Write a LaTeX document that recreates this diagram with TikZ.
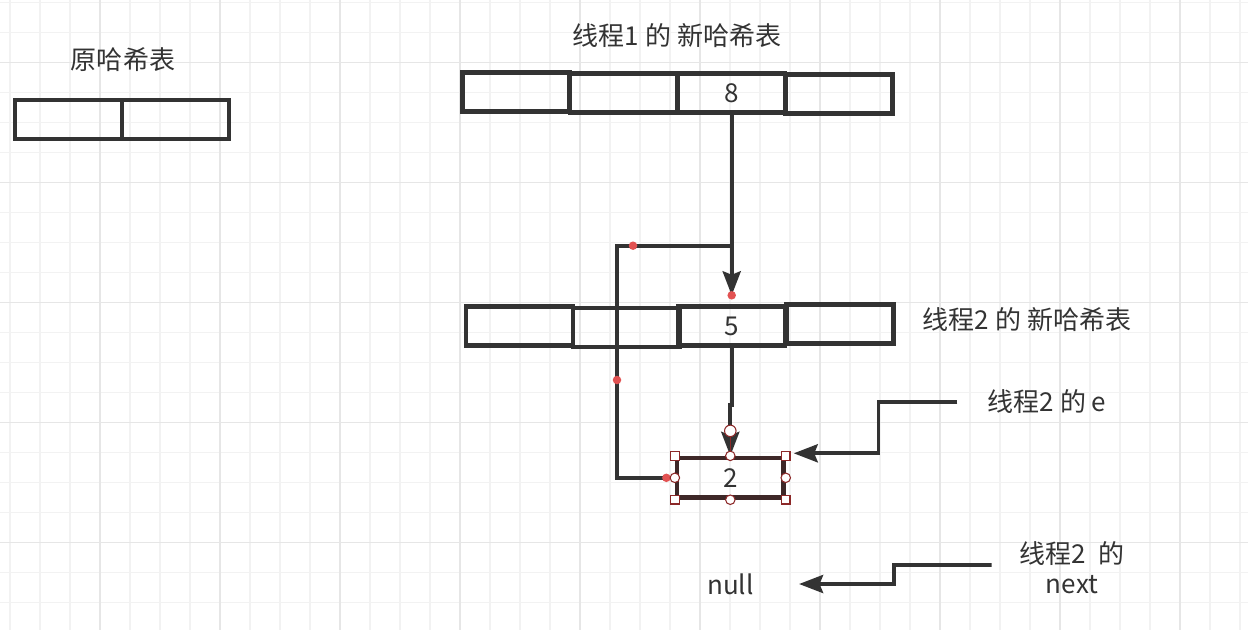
\documentclass[tikz,border=0pt]{standalone}
\usepackage{fontspec}
\setmainfont{Noto Sans CJK SC}
\usetikzlibrary{
  arrows.meta,
  positioning
}
\definecolor{ink}{RGB}{51,51,51}
\definecolor{gridminor}{RGB}{242,242,242}
\definecolor{gridmajor}{RGB}{230,230,230}
\definecolor{handlered}{RGB}{140,40,40}
\definecolor{dotred}{RGB}{226,82,82}
\definecolor{selbrown}{RGB}{62,40,40}

\begin{document}
\begin{tikzpicture}[x=0.02cm, y=-0.02cm,
  cell/.style={draw=ink, line width=2.5pt, minimum width=2.14cm, minimum height=0.78cm,
    inner sep=0pt, text=ink, font=\fontsize{14.8pt}{17pt}\selectfont},
  lbl/.style={inner sep=0pt, text=ink, font=\fontsize{14.8pt}{17pt}\selectfont},
  conn/.style={draw=ink, line width=2.2pt},
  arrowed/.style={-{Stealth[length=0.48cm, width=0.36cm, inset=0.07cm]}},
  handlesq/.style={draw=handlered, fill=white, line width=0.6pt, minimum size=0.17cm, inner sep=0pt},
  handlecirc/.style={circle, draw=handlered, fill=white, line width=0.6pt, minimum size=0.19cm, inner sep=0pt},
  reddot/.style={circle, fill=dotred, minimum size=0.17cm, inner sep=0pt}
]
  \useasboundingbox (0,0) rectangle (1248,630);
  \fill[white] (0,0) rectangle (1248,630);

  % background grid
  \foreach \gx in {10,40,...,1240} \draw[gridminor, line width=0.6pt] (\gx,0) -- (\gx,630);
  \foreach \gy in {2.3,32.3,...,630} \draw[gridminor, line width=0.6pt] (0,\gy) -- (1248,\gy);
  \foreach \gx in {100,220,...,1240} \draw[gridmajor, line width=0.6pt] (\gx,0) -- (\gx,630);
  \foreach \gy in {62.3,182.3,...,630} \draw[gridmajor, line width=0.6pt] (0,\gy) -- (1248,\gy);

  % old table
  \node[lbl] (oldtitle) at (123,60) {原哈希表};
  \node[cell] (old1) at (68.3,119.5) {};
  \node[cell] (old2) at (175.3,119.5) {};

  % thread 1 table
  \node[lbl] (t1title) at (677,36) {线程1 的 新哈希表};
  \node[cell] (t1a) at (516,92) {};
  \node[cell] (t1b) at (623.5,93) {};
  \node[cell] (t1c) at (731.7,93) {8};
  \node[cell] (t1d) at (839,94) {};

  % thread 2 table
  \node[lbl] (t2title) at (1027,320) {线程2 的 新哈希表};
  \node[cell] (t2a) at (519.4,326) {};
  \node[cell] (t2b) at (626.5,327.2) {};
  \node[cell] (t2c) at (731.7,326) {5};
  \node[cell] (t2d) at (839.9,324) {};

  % entry 2
  \node[cell, draw=selbrown, minimum width=2.13cm, minimum height=0.79cm] (n2) at (730.3,477.8) {2};

  % labels on the right
  \node[lbl] (elbl) at (1047,402) {线程2 的 e};
  \node[lbl] (null) at (730.5,584) {null};
  \node[lbl, align=center] (nextlbl) at (1072,568) {线程2\ \ 的\\next};

  % connectors
  \coordinate (tip1) at ([yshift=0.18cm]t2c.north);
  \coordinate (fork) at (731.7,245.7);
  \coordinate (bend) at (617,245.7);
  \coordinate (n2in) at ([xshift=-0.17cm]n2.west);
  \draw[conn, arrowed] (t1c.south) -- (tip1);
  \draw[conn] (fork) -- (bend) |- (n2in);
  \draw[conn, arrowed] (t2c.south) -- ++(0,57) -| (n2.north);

  \coordinate (estart) at ([xshift=-0.6cm]elbl.west);
  \coordinate (ebend) at (878.5,402);
  \coordinate (etip) at ([shift={(0.16cm,0.49cm)}]n2.east);
  \draw[conn, arrowed] (estart) -- (ebend) |- (etip);

  \coordinate (nstart) at ([shift={(-0.56cm,0.06cm)}]nextlbl.west);
  \coordinate (nbend) at (894,565);
  \coordinate (ntip) at ([xshift=0.9cm]null.east);
  \draw[conn, arrowed] (nstart) -- (nbend) |- (ntip);

  % selection marks
  \node[reddot] (dot1) at (tip1) {};
  \node[reddot] (dot2) at (633,245.7) {};
  \node[reddot] (dot3) at (617,380) {};
  \node[reddot] (dot4) at (n2in) {};
  \coordinate (wayp) at ([yshift=0.5cm]n2.north);
  \draw[handlered, line width=0.5pt] (wayp) -- (n2.north);
  \node[handlecirc, minimum size=0.23cm] (hcw) at (wayp) {};
  \foreach \a [count=\i] in {north west, north east, south west, south east}
    \node[handlesq] (sq\i) at (n2.\a) {};
  \foreach \a [count=\i] in {north, south, east, west}
    \node[handlecirc] (hc\i) at (n2.\a) {};
\end{tikzpicture}
\end{document}
